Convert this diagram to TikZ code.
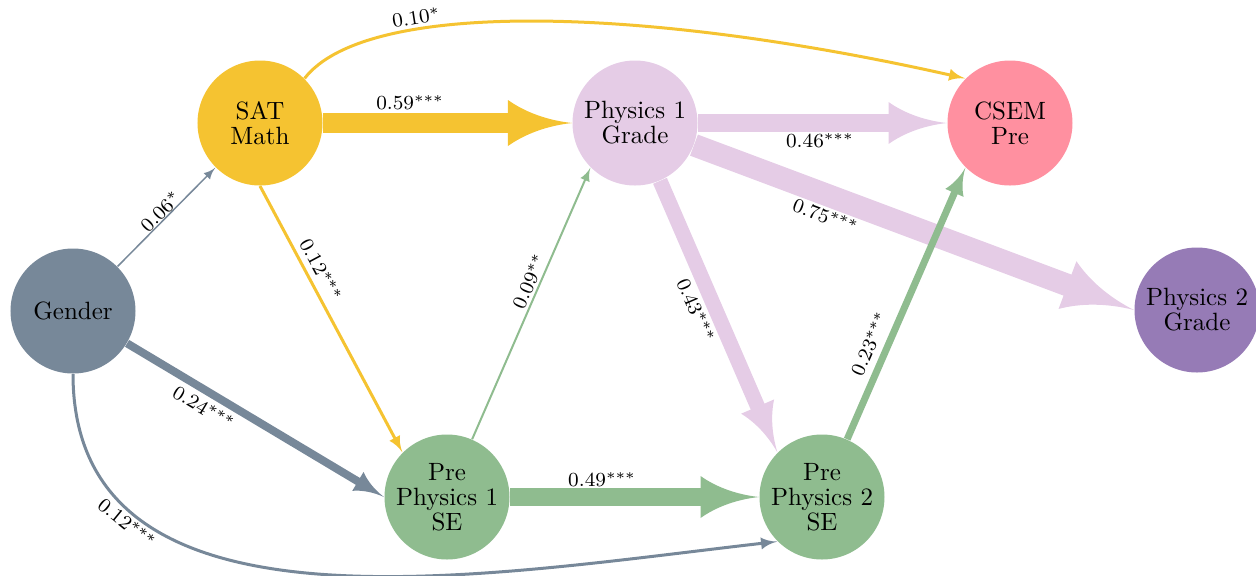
\documentclass[tikz,border=0pt]{standalone}
\usetikzlibrary{arrows.meta}
\definecolor{cGender}{RGB}{119,136,153}
\definecolor{cSat}{RGB}{245,195,49}
\definecolor{cPhysOne}{RGB}{229,204,230}
\definecolor{cCsem}{RGB}{255,144,160}
\definecolor{cPhysTwo}{RGB}{150,123,182}
\definecolor{cGreen}{RGB}{143,188,143}

\pgfdeclarearrow{
  name = Concave,
  defaults = {length = +3.2pt 2.8 1, width = +2.4pt 2 1},
  setup code = {
    \pgfarrowssettipend{\pgfarrowlength}
    \pgfarrowssetbackend{0pt}
    \pgfarrowssetlineend{.3pt}
    \pgfarrowsupperhullpoint{0pt}{.5\pgfarrowwidth}
    \pgfarrowsupperhullpoint{\pgfarrowlength}{0pt}
    \pgfarrowssavethe\pgfarrowlength
    \pgfarrowssavethe\pgfarrowwidth
  },
  drawing code = {
    \pgfpathmoveto{\pgfqpoint{\pgfarrowlength}{0pt}}
    \pgfpathcurveto{\pgfqpoint{.6\pgfarrowlength}{.06\pgfarrowwidth}}{\pgfqpoint{.25\pgfarrowlength}{.25\pgfarrowwidth}}{\pgfqpoint{0pt}{.5\pgfarrowwidth}}
    \pgfpathlineto{\pgfqpoint{0pt}{-.5\pgfarrowwidth}}
    \pgfpathcurveto{\pgfqpoint{.25\pgfarrowlength}{-.25\pgfarrowwidth}}{\pgfqpoint{.6\pgfarrowlength}{-.06\pgfarrowwidth}}{\pgfqpoint{\pgfarrowlength}{0pt}}
    \pgfpathclose
    \pgfusepathqfill
  },
  parameters = {\the\pgfarrowlength,\the\pgfarrowwidth},
}

\begin{document}
\begin{tikzpicture}[x=0.4pt,y=-0.4pt,
  var/.style={circle, minimum size=50pt, inner sep=0pt, align=center,
              font=\fontsize{10pt}{10pt}\selectfont},
  lbl/.style={font=\footnotesize, sloped, text=black},
  conn/.style={-{Concave}},
]
\useasboundingbox (0,0) rectangle (1256,575);

\node[var, fill=cGender]   (gender) at (73,311)   {Gender};
\node[var, fill=cSat]      (sat)    at (260,123)  {SAT\\Math};
\node[var, fill=cPhysOne]  (phys1)  at (635,123)  {Physics 1\\Grade};
\node[var, fill=cCsem]     (csem)   at (1010,123) {CSEM\\Pre};
\node[var, fill=cPhysTwo]  (phys2)  at (1197,310) {Physics 2\\Grade};
\node[var, fill=cGreen]    (pp1)    at (447,497)  {Pre\\Physics 1\\SE};
\node[var, fill=cGreen]    (pp2)    at (822,497)  {Pre\\Physics 2\\SE};

% Gender
\draw[conn, cGender, line width=0.6pt] (gender.north east) -- node[lbl, pos=0.5, above=-3.1pt] {$0.06^{*}$} (sat.south west);
\draw[conn, cGender, line width=3.2pt] (gender) -- node[lbl, pos=0.33, below=-1.5pt] {$0.24^{***}$} (pp1.west);
\draw[conn, cGender, line width=1.2pt] (gender.south) .. controls +(0,274) and +(-298,34) .. node[lbl, pos=0.235, below=-2.5pt] {$0.12^{***}$} (pp2.south west);

% SAT
\draw[conn, cSat, line width=8pt] (sat) -- node[lbl, pos=0.35, above=-1.8pt] {$0.59^{***}$} (phys1);
\draw[conn, cSat, line width=1.2pt] (sat.south) -- node[lbl, pos=0.34, above=-1pt] {$0.12^{***}$} (pp1.north west);
\draw[conn, cSat, line width=1.2pt] (sat.north east) .. controls +(61,-79) and +(-325,-73) .. node[lbl, pos=0.31, above=-2pt] {$0.10^{*}$} (csem.north west);

% Physics 1 Grade
\draw[conn, cPhysOne, line width=7.2pt] (phys1) -- node[lbl, pos=0.49, below=-2.6pt] {$0.46^{***}$} (csem);
\draw[conn, cPhysOne, line width=9pt] (phys1) -- node[lbl, pos=0.315, below=-2.5pt] {$0.75^{***}$} (phys2.west);
\draw[conn, cPhysOne, line width=6pt] (phys1) -- node[lbl, pos=0.45, below=-1.8pt] {$0.43^{***}$} (pp2.north west);

% Pre SE
\draw[conn, cGreen, line width=0.8pt] (pp1) -- node[lbl, pos=0.566, above=-2.2pt] {$0.09^{**}$} (phys1.south west);
\draw[conn, cGreen, line width=7.2pt] (pp1) -- node[lbl, pos=0.37, above=-2.8pt] {$0.49^{***}$} (pp2);
\draw[conn, cGreen, line width=2.8pt] (pp2) -- node[lbl, pos=0.326, above=-0.5pt] {$0.23^{***}$} (csem.south west);
\end{tikzpicture}
\end{document}
